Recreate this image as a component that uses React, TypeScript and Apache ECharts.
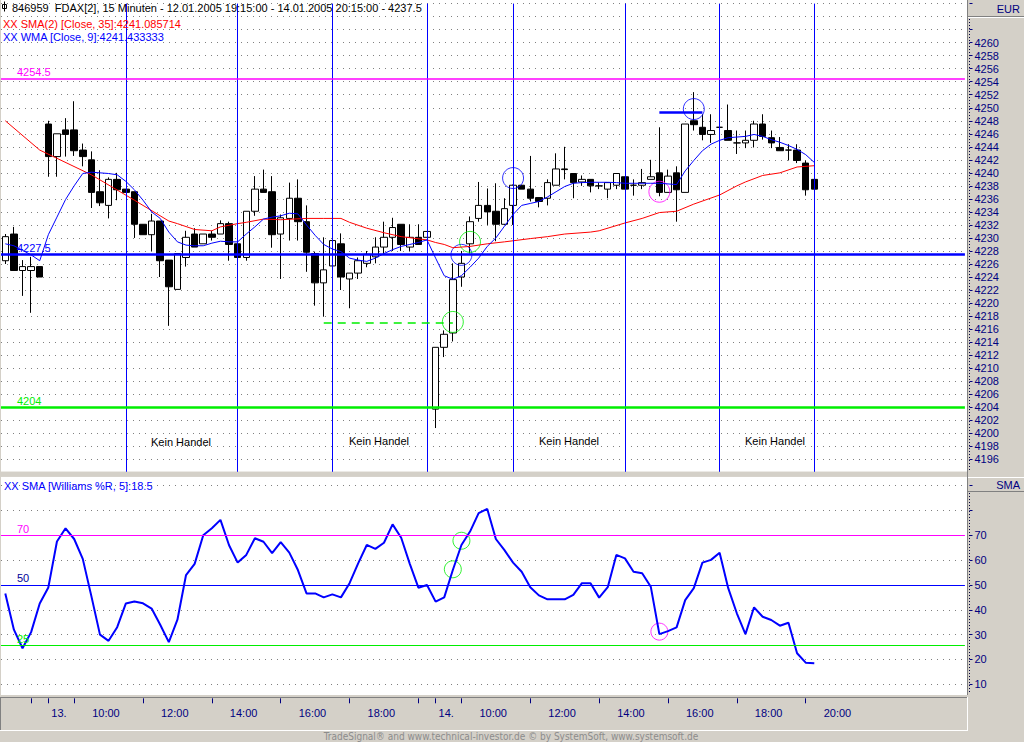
import React, { useEffect, useRef } from "react";
import * as echarts from "echarts";

// ---------- categories (15-minute bars) ----------
const DAY12_TIMES = ["19:15", "19:30", "19:45", "20:00", "20:15"];
function sessionTimes(): string[] {
  const out: string[] = [];
  for (let m = 9 * 60 + 15; m <= 20 * 60 + 15; m += 15) {
    const h = Math.floor(m / 60);
    const mm = m % 60;
    out.push(`${String(h).padStart(2, "0")}:${String(mm).padStart(2, "0")}`);
  }
  return out;
}
const SESSION = sessionTimes();
const PAD_COUNT = 17;
const CATEGORIES: string[] = [
  ...DAY12_TIMES.map((t) => `12.01 ${t}`),
  ...SESSION.map((t) => `13.01 ${t}`),
  ...SESSION.map((t) => `14.01 ${t}`),
  ...Array.from({ length: PAD_COUNT }, (_, i) => `pad ${i + 1}`),
];

const TICK_CATS = [
  "12.01 20:00", "13.01 09:15", "13.01 10:00", "13.01 12:00", "13.01 14:00",
  "13.01 16:00", "13.01 18:00", "13.01 20:00", "14.01 09:15", "14.01 10:00",
  "14.01 12:00", "14.01 14:00", "14.01 16:00", "14.01 18:00", "14.01 20:00",
];
const TICK_LABELS = [
  "", "13.", "10:00", "12:00", "14:00",
  "16:00", "18:00", "", "14.", "10:00",
  "12:00", "14:00", "16:00", "18:00", "20:00",
];

// ---------- price data ----------
const OPEN = [
  4226.5, 4230.6, 4225.0, 4225.0, 4225.6, 4247.5, 4242.5, 4246.6, 4246.6, 4243.5,
  4242.0, 4237.1, 4235.0, 4239.0, 4237.5, 4237.1, 4232.1, 4230.5, 4232.6, 4226.6,
  4222.1, 4227.0, 4230.6, 4229.1, 4230.6, 4230.6, 4232.2, 4229.1, 4227.0, 4234.1,
  4237.5, 4237.1, 4230.6, 4233.0, 4236.1, 4232.5, 4227.6, 4223.1, 4225.7, 4229.1,
  4223.7, 4224.6, 4226.1, 4227.1, 4228.6, 4230.1, 4232.1, 4228.6, 4230.1, 4230.1,
  4203.7, 4213.2, 4215.4, 4224.0, 4229.1, 4233.0, 4235.0, 4234.1, 4232.1, 4235.0,
  4238.1, 4237.5, 4236.2, 4236.1, 4238.1, 4240.6, 4239.9, 4238.6, 4239.0, 4238.0,
  4237.5, 4238.1, 4239.4, 4238.1, 4238.1, 4239.0, 4240.0, 4237.0, 4240.0, 4237.0,
  4248.0, 4247.0, 4245.9, 4247.0, 4246.5, 4244.6, 4244.6, 4245.0, 4247.5, 4245.4,
  4243.9, 4243.5, 4243.5, 4241.5, 4239.0,
];
const CLOSE = [
  4230.2, 4225.0, 4225.6, 4225.6, 4224.0, 4242.5, 4246.0, 4245.9, 4243.4, 4242.5,
  4237.0, 4235.4, 4239.0, 4237.4, 4237.0, 4232.1, 4230.5, 4232.6, 4226.5, 4222.5,
  4227.6, 4230.1, 4228.6, 4230.6, 4230.1, 4232.2, 4229.0, 4227.0, 4234.1, 4237.5,
  4237.0, 4230.5, 4233.1, 4236.1, 4232.5, 4227.8, 4223.1, 4225.1, 4229.6, 4224.0,
  4224.6, 4226.5, 4227.5, 4228.6, 4230.1, 4231.6, 4229.0, 4230.1, 4229.0, 4231.0,
  4213.2, 4215.2, 4223.6, 4226.1, 4232.5, 4235.0, 4234.0, 4232.1, 4234.5, 4238.1,
  4237.5, 4236.1, 4235.6, 4238.5, 4240.6, 4240.5, 4238.5, 4239.0, 4238.0, 4238.0,
  4238.5, 4239.9, 4237.5, 4238.1, 4238.5, 4239.4, 4237.0, 4239.5, 4237.4, 4247.5,
  4247.4, 4245.9, 4246.5, 4247.0, 4245.0, 4244.6, 4245.0, 4247.5, 4245.6, 4244.6,
  4243.4, 4243.5, 4241.9, 4237.4, 4237.5,
];
const LOW = [
  4226.0, 4225.0, 4221.1, 4218.5, 4224.0, 4239.4, 4239.4, 4242.5, 4242.6, 4241.0,
  4234.6, 4234.9, 4233.0, 4235.8, 4237.0, 4230.0, 4230.5, 4228.0, 4224.0, 4216.5,
  4222.1, 4225.6, 4228.6, 4229.1, 4229.6, 4230.6, 4226.5, 4226.5, 4226.5, 4233.4,
  4237.0, 4228.5, 4223.7, 4229.6, 4229.6, 4224.8, 4219.6, 4217.9, 4225.6, 4222.0,
  4219.2, 4223.7, 4225.5, 4226.1, 4227.5, 4228.0, 4228.0, 4228.0, 4229.0, 4230.1,
  4200.8, 4211.7, 4214.1, 4222.5, 4227.6, 4232.5, 4232.0, 4229.5, 4232.0, 4232.0,
  4237.5, 4235.6, 4234.7, 4235.0, 4238.1, 4239.0, 4236.1, 4238.0, 4237.0, 4237.5,
  4236.1, 4237.5, 4237.5, 4236.5, 4237.5, 4239.0, 4236.4, 4237.0, 4232.5, 4237.0,
  4246.5, 4245.0, 4244.6, 4247.0, 4245.0, 4242.9, 4243.8, 4243.9, 4245.1, 4243.8,
  4243.4, 4241.9, 4241.5, 4236.5, 4237.0,
];
const HIGH = [
  4230.6, 4231.7, 4226.6, 4227.1, 4225.6, 4248.0, 4246.0, 4248.4, 4251.0, 4244.5,
  4243.3, 4240.4, 4239.3, 4240.0, 4237.5, 4237.1, 4232.1, 4233.7, 4232.6, 4226.6,
  4227.6, 4231.1, 4231.5, 4230.6, 4231.1, 4232.7, 4232.5, 4229.1, 4234.1, 4239.5,
  4240.5, 4239.5, 4233.6, 4238.5, 4239.0, 4235.0, 4227.9, 4230.1, 4229.8, 4230.7,
  4224.6, 4227.0, 4228.0, 4230.1, 4232.5, 4233.1, 4232.1, 4232.1, 4232.1, 4231.0,
  4213.2, 4215.8, 4226.1, 4228.0, 4233.3, 4238.6, 4237.6, 4238.4, 4236.1, 4238.2,
  4238.1, 4242.6, 4236.2, 4239.0, 4243.0, 4244.0, 4239.9, 4239.6, 4239.0, 4238.5,
  4238.5, 4239.9, 4239.4, 4239.0, 4240.6, 4242.0, 4247.0, 4240.5, 4241.0, 4247.5,
  4252.4, 4249.0, 4249.0, 4247.0, 4250.5, 4246.5, 4246.5, 4248.0, 4249.0, 4246.5,
  4245.5, 4244.4, 4244.4, 4241.9, 4239.0,
];

// SMA(2)[Close,35] (null = not read, line connects)
const SMA35 = [
  4248.0, null, null, null, 4243.5, null, null, null, null, null,
  4239.7, null, null, null, null, 4235.8, null, null, null, 4232.6,
  4232.2, null, 4231.3, null, 4231.1, 4231.7, null, 4232.2, 4232.4, null,
  4232.9, null, 4232.8, null, null, 4233.0, null, 4233.0, null, 4233.0,
  4232.4, null, 4231.5, null, 4230.8, null, 4230.2, null, null, 4229.7,
  4229.3, 4229.0, 4228.5, null, 4228.7, null, 4229.1, null, 4229.4, null,
  null, 4229.9, null, 4230.2, null, 4230.6, null, null, 4230.9, 4231.1,
  null, null, 4232.3, null, 4233.0, null, 4233.9, null, 4234.1, null,
  4235.2, null, null, 4236.6, null, 4238.0, 4238.6, null, 4239.6, null,
  4240.0, null, 4240.9, null, 4241.1,
];
// WMA[Close,9]
const WMA9 = [
  4229.1, 4228.8, 4228.1, 4227.4, 4226.5, 4230.5, 4233.2, 4235.9, 4238.0, 4239.9,
  4240.1, 4240.0, 4239.9, 4239.7, 4238.7, 4237.4, 4235.8, 4234.0, 4233.0, 4230.9,
  4229.4, 4228.9, 4228.8, 4228.8, 4229.2, 4229.5, 4229.4, 4229.4, 4230.6, 4231.7,
  4232.9, 4233.2, 4233.4, 4233.8, 4233.7, 4232.0, 4230.4, 4229.0, 4228.3, 4227.9,
  4226.9, 4226.6, 4226.4, 4226.9, 4227.6, 4228.2, 4228.7, 4229.0, 4229.3, 4229.7,
  4226.9, 4224.2, 4223.65, 4224.2, 4225.5, 4226.9, 4228.7, 4230.0, 4231.8, 4233.6,
  4235.0, 4235.3, 4235.6, 4236.3, 4237.1, 4237.9, 4238.4, 4238.5, 4238.55, 4238.55,
  4238.55, 4238.5, 4238.4, 4238.4, 4238.4, 4238.4, 4238.4, 4238.3, 4238.2, 4240.3,
  4241.9, 4243.4, 4244.4, 4245.0, 4245.4, 4245.5, 4245.6, 4245.9, 4245.6, 4245.1,
  4244.7, 4244.2, 4243.6, 4242.8, 4241.6,
];
// SMA[Williams %R, 5]
const WILLIAMS = [
  46.6, 32, 24.5, 31, 42.5, 49, 67.5, 72.8, 68.5, 60.5,
  45.5, 30, 27.5, 33, 42.5, 43.3, 42.6, 40.5, 34, 27,
  36, 54, 58.5, 70, 72.8, 76.2, 66, 59, 62.1, 68.8,
  67.4, 62.8, 67.2, 63, 56, 46.6, 46.6, 45, 46.2, 45,
  50.7, 58.7, 66.1, 64.5, 67, 74.4, 69, 58.5, 48.9, 50,
  43.3, 45, 56, 66.1, 71.5, 78.9, 80.6, 68.5, 64, 59,
  55.3, 49.1, 45.8, 44.2, 44.2, 44.2, 46, 50.7, 50.7, 44.9,
  49.1, 62.1, 60.7, 55.3, 54.7, 49.3, 30.2, 31.4, 32.9, 43.9,
  48.7, 59, 60.1, 63, 48.7, 38.6, 30.2, 41, 37.2, 35.9,
  33.6, 34.8, 22.5, 18.7, 18.5,
];

// annotations
const VLINE_IDX = [14, 27, 38, 49, 59, 72, 83, 94];
const LEVELS_TOP = [
  { value: 4254.5, text: "4254.5", color: "#ff00ff", width: 1.5 },
  { value: 4227.5, text: "4227.5", color: "#0000ff", width: 2.5 },
  { value: 4204, text: "4204", color: "#00ee00", width: 2.5 },
];
const LEVELS_LOW = [
  { value: 70, text: "70", color: "#ff00ff", labelColor: "#ff00ff" },
  { value: 50, text: "50", color: "#0000ff", labelColor: "#000099" },
  { value: 25.7, text: "25", color: "#00ee00", labelColor: "#00ee00" },
];
const CIRCLES_TOP = [
  { i: 53, v: 4227.4, color: "#0000ff" },
  { i: 54, v: 4229.4, color: "#00ee00" },
  { i: 52, v: 4217.1, color: "#00ee00" },
  { i: 59, v: 4239.2, color: "#0000ff" },
  { i: 76, v: 4237.1, color: "#ff00ff" },
  { i: 80, v: 4249.8, color: "#0000ff" },
];
const CIRCLES_LOW = [
  { i: 53, v: 67.8, color: "#00ee00" },
  { i: 52, v: 56.3, color: "#00ee00" },
  { i: 76, v: 31.2, color: "#ff00ff" },
];
const SEGMENTS = [
  { from: 37, to: 52, value: 4217.05, color: "#00ee00", width: 1.5, dash: [8, 6] as any },
  { from: 76, to: 81, value: 4249.35, color: "#0000ff", width: 2.5, dash: "solid" as any },
];
const NO_TRADE = [
  { x: 181, y: 442 },
  { x: 379, y: 441 },
  { x: 569, y: 441 },
  { x: 775, y: 441 },
];

const FONT = "'Liberation Sans', Arial, sans-serif";
const NAVY = "#000080";
const PANEL_GRAY = "#d4d0c8";

function buildOption(): any {
  const candles = OPEN.map((o, i) => [o, CLOSE[i], LOW[i], HIGH[i]]);
  const tickSet = new Set(TICK_CATS);

  const topMarkLines: any[] = [
    ...VLINE_IDX.map((i) => ({
      xAxis: i,
      lineStyle: { color: "#0000ff", width: 1, type: "solid" },
      label: { show: false },
    })),
    ...LEVELS_TOP.map((l) => ({
      yAxis: l.value,
      lineStyle: { color: l.color, width: l.width, type: "solid" },
      label: {
        show: true,
        formatter: l.text,
        position: "insideStartTop",
        distance: [16, 1],
        color: l.color,
        fontSize: 11,
        fontFamily: FONT,
      },
    })),
    ...SEGMENTS.map((s) => [
      {
        coord: [s.from, s.value],
        lineStyle: { color: s.color, width: s.width, type: s.dash },
        label: { show: false },
      },
      { coord: [s.to, s.value] },
    ]),
  ];

  const lowMarkLines = LEVELS_LOW.map((l) => ({
    yAxis: l.value,
    lineStyle: { color: l.color, width: 1, type: "solid" },
    label: {
      show: true,
      formatter: l.text,
      position: "insideStartTop",
      distance: [16, 1],
      color: l.labelColor,
      fontSize: 11,
      fontFamily: FONT,
    },
  }));

  const txt = (text: string, x: number, y: number, fill: string, extra: any = {}) => ({
    type: "text",
    z: 120,
    silent: true,
    style: {
      text,
      x,
      y,
      fill,
      fontSize: 11,
      fontFamily: FONT,
      verticalAlign: "middle",
      textVerticalAlign: "middle",
      ...extra,
    },
  });
  const gline = (x1: number, y1: number, x2: number, y2: number, stroke: string, z = 110, lineDash?: number[]) => ({
    type: "line",
    z,
    silent: true,
    shape: { x1, y1, x2, y2 },
    style: { stroke, lineWidth: 1, lineDash },
  });

  const graphic: any[] = [
    // white panels
    { type: "rect", z: -5, silent: true, shape: { x: 1, y: 0, width: 966, height: 471.7 }, style: { fill: "#ffffff" } },
    { type: "rect", z: -5, silent: true, shape: { x: 1, y: 476.7, width: 966, height: 218.3 }, style: { fill: "#ffffff" } },
    // separator between panels
    { type: "rect", z: 100, silent: true, shape: { x: 0, y: 471.7, width: 1024, height: 5 }, style: { fill: PANEL_GRAY } },
    // right column edge
    gline(967.5, 0, 967.5, 695, "#808080"),
    // header boxes on the right
    gline(968, 16.5, 1024, 16.5, "#808080"),
    gline(968, 17.5, 1024, 17.5, "#ffffff"),
    gline(968, 477.5, 1024, 477.5, "#ffffff"),
    gline(968, 491.5, 1024, 491.5, "#808080"),
    // dotted axis lines
    gline(969.5, 19, 969.5, 471, "#000040", 110, [1, 2]),
    gline(969.5, 493, 969.5, 694, "#000040", 110, [1, 2]),
    // bottom time-axis box
    gline(0, 697.5, 967, 697.5, "#808080"),
    gline(0.5, 697, 0.5, 730, "#808080"),
    gline(0, 730.5, 968, 730.5, "#ffffff"),
    gline(967.5, 697, 967.5, 731, "#ffffff"),
    // header icon
    { type: "rect", z: 120, silent: true, shape: { x: 2.5, y: 4.5, width: 4, height: 4 }, style: { fill: "#ffffff", stroke: "#000000", lineWidth: 1 } },
    gline(4.5, 1.5, 4.5, 11.5, "#000000", 121),
    // texts
    txt("846959  FDAX[2], 15 Minuten - 12.01.2005 19:15:00 - 14.01.2005 20:15:00 - 4237.5", 12, 7.5, "#000000"),
    txt("XX SMA(2) [Close, 35]:4241.085714", 3, 23.5, "#ff0000"),
    txt("XX WMA [Close, 9]:4241.433333", 3, 37, "#0000ff"),
    txt("XX SMA [Williams %R, 5]:18.5", 4, 485.5, "#0000ff"),
    txt("EUR", 1020, 8.5, NAVY, { align: "right", textAlign: "right" }),
    txt("SMA", 1020, 484.5, NAVY, { align: "right", textAlign: "right" }),
    ...NO_TRADE.map((p) => txt("Kein Handel", p.x, p.y, "#000000", { align: "center", textAlign: "center" })),
    txt(
      "TradeSignal® and www.technical-investor.de © by SystemSoft, www.systemsoft.de",
      511,
      736.5,
      "#8c8c8c",
      {
        align: "center",
        textAlign: "center",
        fontSize: 10,
        fontFamily: "'Liberation Sans Narrow', 'DejaVu Sans Condensed', 'Liberation Sans', sans-serif",
      }
    ),
  ];

  return {
    animation: false,
    backgroundColor: PANEL_GRAY,
    textStyle: { fontFamily: FONT },
    grid: [
      { left: 1, top: 3.6, width: 963.9, height: 468.7, outerBoundsMode: "none", containLabel: false },
      { left: 1, top: 485.6, width: 963.9, height: 198.7, outerBoundsMode: "none", containLabel: false },
    ],
    xAxis: [
      {
        type: "category",
        gridIndex: 0,
        data: CATEGORIES,
        boundaryGap: true,
        show: false,
      },
      {
        type: "category",
        gridIndex: 1,
        data: CATEGORIES,
        boundaryGap: true,
        position: "bottom",
        offset: 14,
        axisLine: { show: false },
        splitLine: { show: false },
        axisTick: {
          show: true,
          alignWithLabel: true,
          length: 5,
          interval: (_i: number, v: string) => tickSet.has(v),
          lineStyle: { color: NAVY, width: 1 },
        },
        axisLabel: {
          show: true,
          interval: (_i: number, v: string) => tickSet.has(v),
          align: "left",
          margin: 9,
          color: NAVY,
          fontSize: 11,
          fontFamily: FONT,
          formatter: (v: string) => {
            const k = TICK_CATS.indexOf(v);
            const lab = k >= 0 ? TICK_LABELS[k] : "";
            if (!lab) return "";
            return lab.endsWith(".") ? `{d|${lab}}` : `{t|${lab}}`;
          },
          rich: {
            d: { padding: [0, 0, 0, 3], color: NAVY, fontSize: 11, fontFamily: FONT },
            t: { padding: [0, 0, 0, 18], color: NAVY, fontSize: 11, fontFamily: FONT },
          },
        },
      },
    ],
    yAxis: [
      {
        type: "value",
        gridIndex: 0,
        position: "right",
        offset: 4.6,
        min: 4194,
        max: 4266,
        interval: 2,
        scale: true,
        axisLine: { show: false },
        axisTick: { show: true, length: 3, lineStyle: { color: NAVY } },
        axisLabel: {
          margin: 5,
          color: NAVY,
          fontSize: 11,
          fontFamily: FONT,
          formatter: (v: number) => (v >= 4196 && v <= 4260 ? String(v) : ""),
        },
        splitLine: { show: true, lineStyle: { color: "#808080", width: 1, type: [1, 5] } },
      },
      {
        type: "value",
        gridIndex: 1,
        position: "right",
        offset: 4.6,
        min: 10,
        max: 90,
        interval: 10,
        axisLine: { show: false },
        axisTick: { show: true, length: 3, lineStyle: { color: NAVY } },
        axisLabel: {
          margin: 5,
          color: NAVY,
          fontSize: 11,
          fontFamily: FONT,
          formatter: (v: number) => (v <= 70 ? String(v) : ""),
        },
        splitLine: { show: true, lineStyle: { color: "#808080", width: 1, type: [1, 5] } },
      },
    ],
    series: [
      {
        name: "FDAX",
        type: "candlestick",
        xAxisIndex: 0,
        yAxisIndex: 0,
        data: candles,
        barWidth: 7,
        itemStyle: {
          color: "#ffffff",
          color0: "#000000",
          borderColor: "#000000",
          borderColor0: "#000000",
          borderColorDoji: "#000000",
          borderWidth: 1,
        },
        markLine: {
          silent: true,
          animation: false,
          symbol: ["none", "none"],
          data: topMarkLines,
        },
      },
      {
        name: "SMA35",
        type: "line",
        xAxisIndex: 0,
        yAxisIndex: 0,
        data: SMA35,
        connectNulls: true,
        symbol: "none",
        lineStyle: { color: "#ff0000", width: 1 },
      },
      {
        name: "WMA9",
        type: "line",
        xAxisIndex: 0,
        yAxisIndex: 0,
        data: WMA9,
        symbol: "none",
        lineStyle: { color: "#0000ff", width: 1 },
      },
      {
        name: "CirclesTop",
        type: "scatter",
        xAxisIndex: 0,
        yAxisIndex: 0,
        symbol: "circle",
        symbolSize: 21,
        silent: true,
        data: CIRCLES_TOP.map((c) => ({
          value: [c.i, c.v],
          itemStyle: { color: "rgba(0,0,0,0)", borderColor: c.color, borderWidth: 1 },
        })),
      },
      {
        name: "Williams",
        type: "line",
        xAxisIndex: 1,
        yAxisIndex: 1,
        data: WILLIAMS,
        symbol: "none",
        lineStyle: { color: "#0000ff", width: 2 },
        markLine: {
          silent: true,
          animation: false,
          symbol: ["none", "none"],
          data: lowMarkLines,
        },
      },
      {
        name: "CirclesLow",
        type: "scatter",
        xAxisIndex: 1,
        yAxisIndex: 1,
        symbol: "circle",
        symbolSize: 17,
        silent: true,
        data: CIRCLES_LOW.map((c) => ({
          value: [c.i, c.v],
          itemStyle: { color: "rgba(0,0,0,0)", borderColor: c.color, borderWidth: 1 },
        })),
      },
    ],
    graphic,
  };
}

export default function App() {
  const ref = useRef<HTMLDivElement>(null);
  useEffect(() => {
    if (!ref.current) return;
    const chart = echarts.init(ref.current, undefined, { renderer: "svg" });
    chart.setOption(buildOption());
    return () => chart.dispose();
  }, []);
  return (
    <div
      ref={ref}
      style={{ position: "absolute", left: 0, top: 0, width: 1024, height: 742 }}
    />
  );
}
